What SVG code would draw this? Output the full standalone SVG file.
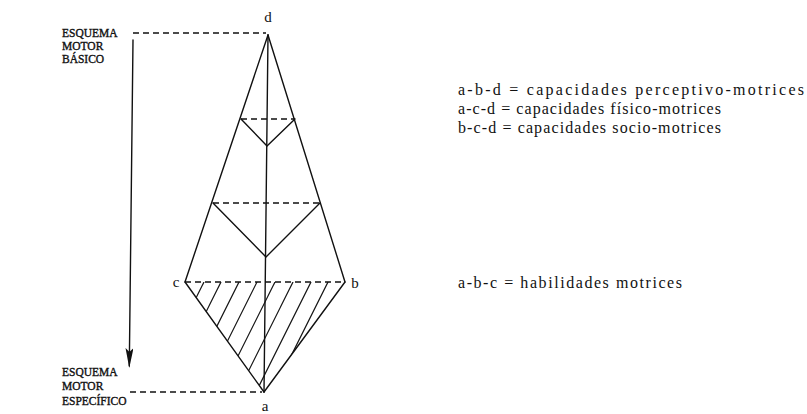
<svg xmlns="http://www.w3.org/2000/svg" width="807" height="414" viewBox="0 0 807 414">
<defs>
<style>
.ln{stroke:#111;stroke-width:1.4;fill:none;stroke-linecap:round}
.ds{stroke:#111;stroke-width:1.4;fill:none;stroke-dasharray:6 4}
.ht{stroke:#111;stroke-width:1.2;fill:none}
.lbl{font-family:"Liberation Serif","Times New Roman",serif;fill:#111}
.caps{font-family:"Liberation Serif","Times New Roman",serif;font-size:11.5px;fill:#111;stroke:#111;stroke-width:0.35}
.leg{font-family:"Liberation Serif","Times New Roman",serif;font-size:16px;fill:#111}
</style>
<marker id="arr" viewBox="0 0 20 8" refX="18" refY="4" markerWidth="20" markerHeight="8" markerUnits="userSpaceOnUse" orient="auto">
<path d="M0,0 L20,4 L0,8 L4,4 Z" fill="#111"/>
</marker>
<clipPath id="tri"><polygon points="185,282 345,282 264,392"/></clipPath>
</defs>
<rect width="807" height="414" fill="#fff"/>

<g id="connectors">
<line class="ds" x1="133" y1="33" x2="266" y2="33"/>
<line class="ds" x1="130" y1="392" x2="262" y2="392"/>
<path class="ln" d="M133,40 L129.3,366" marker-end="url(#arr)"/>
</g>

<g id="figure">
<line class="ln" x1="268" y1="35" x2="185" y2="282"/>
<line class="ln" x1="268" y1="35" x2="345" y2="282"/>
<line class="ln" x1="268" y1="35" x2="264" y2="392"/>
<line class="ln" x1="185" y1="282" x2="264" y2="392"/>
<line class="ln" x1="345" y1="282" x2="264" y2="392"/>
<line class="ds" x1="241" y1="119" x2="295" y2="119"/>
<polyline class="ln" points="241,119 267,146 295,119"/>
<line class="ds" x1="213" y1="203" x2="320" y2="203"/>
<polyline class="ln" points="213,203 266,257 320,203"/>
<line class="ds" x1="185" y1="282" x2="345" y2="282"/>
</g>

<g id="hatching" clip-path="url(#tri)">
<line class="ht" x1="204" y1="282" x2="149" y2="392"/>
<line class="ht" x1="221" y1="282" x2="166" y2="392"/>
<line class="ht" x1="239" y1="282" x2="184" y2="392"/>
<line class="ht" x1="257" y1="282" x2="202" y2="392"/>
<line class="ht" x1="275" y1="282" x2="220" y2="392"/>
<line class="ht" x1="293" y1="282" x2="238" y2="392"/>
<line class="ht" x1="311" y1="282" x2="256" y2="392"/>
<line class="ht" x1="328" y1="282" x2="273" y2="392"/>
</g>

<g id="node-d"><text class="lbl" x="268" y="22" font-size="15" text-anchor="middle">d</text></g>
<g id="node-c"><text class="lbl" x="176" y="287" font-size="15" text-anchor="middle">c</text></g>
<g id="node-b"><text class="lbl" x="355" y="288" font-size="15" text-anchor="middle">b</text></g>
<g id="node-a"><text class="lbl" x="265" y="411" font-size="15" text-anchor="middle">a</text></g>

<g id="label-basico">
<text class="caps" x="62" y="37">ESQUEMA</text>
<text class="caps" x="62" y="50">MOTOR</text>
<text class="caps" x="62" y="63">BÁSICO</text>
</g>
<g id="label-especifico">
<text class="caps" x="62" y="376">ESQUEMA</text>
<text class="caps" x="62" y="390">MOTOR</text>
<text class="caps" x="62" y="405">ESPECÍFICO</text>
</g>

<g id="legend">
<text class="leg" x="458" y="95" textLength="346" lengthAdjust="spacing">a-b-d = capacidades perceptivo-motrices</text>
<text class="leg" x="458" y="114" textLength="263" lengthAdjust="spacing">a-c-d = capacidades físico-motrices</text>
<text class="leg" x="458" y="133" textLength="263" lengthAdjust="spacing">b-c-d = capacidades socio-motrices</text>
<text class="leg" x="458" y="288" textLength="224" lengthAdjust="spacing">a-b-c = habilidades motrices</text>
</g>
</svg>
